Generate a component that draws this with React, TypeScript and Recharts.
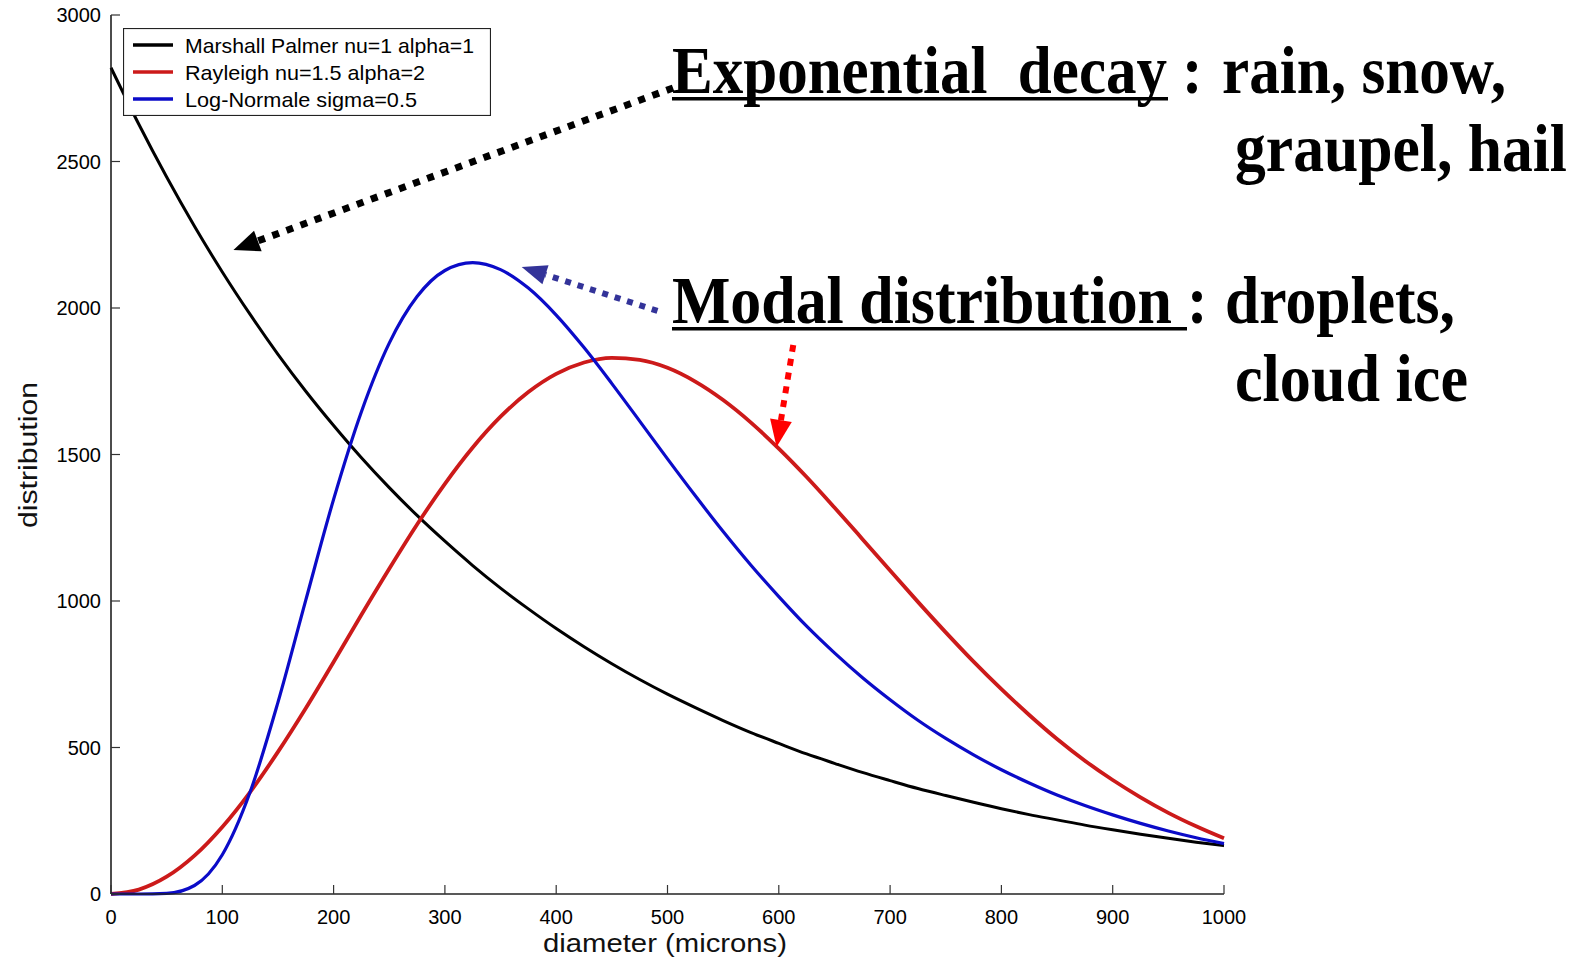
import React from 'react';
import { LineChart, Line, XAxis, YAxis, ReferenceLine, Legend } from 'recharts';

// ---------- data ----------
const diameters = [0, 25, 50, 75, 100, 125, 150, 175, 200, 225, 250, 275, 300, 325, 350, 375, 400, 425, 450, 475, 500, 525, 550, 575, 600, 625, 650, 675, 700, 725, 750, 775, 800, 825, 850, 875, 900, 925, 950, 975, 1000];
const marshallPalmer = [2820, 2627, 2447, 2279, 2123, 1978, 1842, 1716, 1599, 1489, 1387, 1292, 1204, 1121, 1044, 973, 906, 844, 786, 732, 682, 636, 592, 551, 514, 478, 446, 415, 387, 360, 336, 313, 291, 271, 253, 235, 219, 204, 190, 177, 165];
const rayleigh = [0, 15, 59, 131, 229, 348, 485, 634, 792, 953, 1110, 1261, 1400, 1524, 1629, 1713, 1775, 1814, 1830, 1823, 1796, 1749, 1686, 1609, 1520, 1423, 1319, 1212, 1104, 997, 893, 793, 699, 611, 529, 455, 389, 330, 277, 231, 190];
const logNormale = [0, 0, 2, 29, 134, 348, 654, 1003, 1347, 1646, 1880, 2039, 2128, 2155, 2131, 2068, 1976, 1865, 1742, 1614, 1485, 1359, 1237, 1122, 1015, 914, 823, 739, 663, 593, 531, 475, 424, 379, 338, 302, 270, 241, 215, 192, 172];

const xTicks = [0, 100, 200, 300, 400, 500, 600, 700, 800, 900, 1000];
const yTicks = [0, 500, 1000, 1500, 2000, 2500, 3000];

const seriesNames = ['Marshall Palmer nu=1 alpha=1', 'Rayleigh nu=1.5 alpha=2', 'Log-Normale sigma=0.5'];
const seriesColors = ['#000000', '#cc1a1a', '#0b0bc8'];

// annotation arrows (data coordinates: start -> tip)
const arrowBlack = [{ x: 505, y: 2751 }, { x: 110, y: 2198 }];
const arrowBlue = [{ x: 491, y: 1990 }, { x: 369, y: 2140 }];
const arrowRed = [{ x: 613, y: 1874 }, { x: 598, y: 1526 }];

const data = diameters.map((d, i) => ({
  d,
  mp: marshallPalmer[i],
  ray: rayleigh[i],
  ln: logNormale[i],
}));

const SANS = '"Liberation Sans", Arial, Helvetica, sans-serif';
const SERIF = '"Liberation Serif", "Times New Roman", serif';

const XTick = (props: any) => {
  const { x, y, payload } = props;
  return (
    <g>
      <line x1={x} y1={y} x2={x} y2={y - 9} stroke="#333" strokeWidth={1.2} />
      <text x={x} y={y + 30} textAnchor="middle" fontSize={20} fontFamily={SANS} fill="#000">
        {payload.value}
      </text>
    </g>
  );
};

const YTick = (props: any) => {
  const { x, y, payload } = props;
  return (
    <g>
      <line x1={x} y1={y} x2={x + 9} y2={y} stroke="#333" strokeWidth={1.2} />
      <text x={x - 10} y={y + 7} textAnchor="end" fontSize={20} fontFamily={SANS} fill="#000">
        {payload.value}
      </text>
    </g>
  );
};

const TopTick = (props: any) => {
  const { x, y } = props;
  return <line x1={x} y1={y} x2={x} y2={y + 9} stroke="#777" strokeWidth={1.2} />;
};

const RightTick = (props: any) => {
  const { x, y } = props;
  return <line x1={x} y1={y} x2={x - 9} y2={y} stroke="#777" strokeWidth={1.2} />;
};

const makeArrow = (color: string, width: number, dash: string, headLen: number, headW: number) => (props: any) => {
  const { x1, y1, x2, y2 } = props;
  const dx = x2 - x1;
  const dy = y2 - y1;
  const len = Math.hypot(dx, dy) || 1;
  const ux = dx / len;
  const uy = dy / len;
  const bx = x2 - ux * headLen;
  const by = y2 - uy * headLen;
  const px = -uy;
  const py = ux;
  return (
    <g>
      <line x1={x1} y1={y1} x2={bx} y2={by} stroke={color} strokeWidth={width} strokeDasharray={dash} />
      <polygon
        points={`${x2},${y2} ${bx + (px * headW) / 2},${by + (py * headW) / 2} ${bx - (px * headW) / 2},${by - (py * headW) / 2}`}
        fill={color}
      />
    </g>
  );
};

const renderLegend = () => (
  <svg width={368} height={88} style={{ display: 'block' }}>
    <rect x={0.5} y={0.5} width={367} height={87} fill="#fff" stroke="#222" strokeWidth={1.2} />
    {seriesNames.map((name, i) => {
      const cy = 17 + i * 27;
      const lens = [289, 240, 232];
      return (
        <g key={name}>
          <line x1={10} y1={cy} x2={50} y2={cy} stroke={seriesColors[i]} strokeWidth={3.5} />
          <text x={62} y={cy + 7.5} fontSize={21} fontFamily={SANS} fill="#000" textLength={lens[i]} lengthAdjust="spacingAndGlyphs">
            {name}
          </text>
        </g>
      );
    })}
  </svg>
);

const SC = 0.905;
const BigText = ({ x, y, w, children }: { x: number; y: number; w?: number; children: string }) => (
  <text
    x={0}
    y={0}
    transform={`translate(${x},${y}) scale(${SC},1)`}
    style={{ whiteSpace: 'pre' }}
    {...(w ? { textLength: w / SC, lengthAdjust: 'spacingAndGlyphs' } : {})}
  >
    {children}
  </text>
);

const Overlay = () => (
  <svg
    width={1577}
    height={963}
    style={{ position: 'absolute', left: 0, top: 0, pointerEvents: 'none' }}
  >
    {/* axis titles */}
    <text x={543} y={952} fontSize={26} fontFamily={SANS} fill="#111" textLength={244} lengthAdjust="spacingAndGlyphs">
      diameter (microns)
    </text>
    <text
      x={0}
      y={0}
      transform="translate(37,455) rotate(-90)"
      textAnchor="middle"
      fontSize={26}
      fontFamily={SANS}
      fill="#111"
      textLength={146}
      lengthAdjust="spacingAndGlyphs"
    >
      distribution
    </text>

    {/* annotations */}
    <g fontFamily={SERIF} fontWeight="bold" fontSize={68} fill="#000">
      <BigText x={672} y={93} w={495}>{'Exponential  decay'}</BigText>
      <rect x={672} y={97} width={496} height={3.5} fill="#000" />
      <BigText x={1182} y={93}>{':'}</BigText>
      <BigText x={1222} y={93} w={284}>{'rain, snow,'}</BigText>
      <BigText x={1235} y={171} w={332}>{'graupel, hail'}</BigText>

      <BigText x={672} y={323} w={500}>{'Modal distribution'}</BigText>
      <rect x={672} y={327} width={515} height={3.5} fill="#000" />
      <BigText x={1187} y={323}>{':'}</BigText>
      <BigText x={1225} y={323} w={230}>{'droplets,'}</BigText>
      <BigText x={1235} y={401} w={233}>{'cloud ice'}</BigText>
    </g>
  </svg>
);

export default function App() {
  return (
    <div style={{ position: 'absolute', left: 0, top: 0, width: 1577, height: 963, background: '#fff' }}>
      <LineChart
        width={1577}
        height={963}
        data={data}
        margin={{ top: 15, right: 353, bottom: 0, left: 0 }}
      >
        <XAxis
          dataKey="d"
          type="number"
          domain={[0, 1000]}
          ticks={xTicks}
          height={69}
          tickSize={0}
          tickMargin={0}
          tickLine={false}
          tick={<XTick />}
          axisLine={{ stroke: '#222', strokeWidth: 1.5 }}
          interval={0}
        />
        <XAxis
          xAxisId="top"
          orientation="top"
          type="number"
          domain={[0, 1000]}
          ticks={xTicks}
          height={0}
          tickSize={0}
          tickMargin={0}
          tickLine={false}
          tick={<TopTick />}
          axisLine={{ stroke: '#666', strokeWidth: 1.5 }}
          interval={0}
        />
        <YAxis
          type="number"
          domain={[0, 3000]}
          ticks={yTicks}
          width={111}
          tickSize={0}
          tickMargin={0}
          tickLine={false}
          tick={<YTick />}
          axisLine={{ stroke: '#111', strokeWidth: 1.5 }}
          interval={0}
        />
        <YAxis
          yAxisId="right"
          orientation="right"
          type="number"
          domain={[0, 3000]}
          ticks={yTicks}
          width={0}
          tickSize={0}
          tickMargin={0}
          tickLine={false}
          tick={<RightTick />}
          axisLine={{ stroke: '#666', strokeWidth: 1.5 }}
          interval={0}
        />
        <Line type="monotone" dataKey="mp" name={seriesNames[0]} stroke={seriesColors[0]} strokeWidth={3} dot={false} isAnimationActive={false} />
        <Line type="monotone" dataKey="ray" name={seriesNames[1]} stroke={seriesColors[1]} strokeWidth={3.8} dot={false} isAnimationActive={false} />
        <Line type="monotone" dataKey="ln" name={seriesNames[2]} stroke={seriesColors[2]} strokeWidth={3.2} dot={false} isAnimationActive={false} />
        <ReferenceLine segment={arrowBlack} shape={makeArrow('#000', 7, '7 8', 26, 22)} />
        <ReferenceLine segment={arrowBlue} shape={makeArrow('#333399', 6, '6 7', 25, 20)} />
        <ReferenceLine segment={arrowRed} shape={makeArrow('#ff0000', 6, '7 7', 27, 22)} />
        <Legend
          layout="vertical"
          verticalAlign="middle"
          align="center"
          content={renderLegend}
          wrapperStyle={{ position: 'absolute', left: 123, top: 28, width: 368, height: 88 }}
        />
      </LineChart>
      <Overlay />
    </div>
  );
}
